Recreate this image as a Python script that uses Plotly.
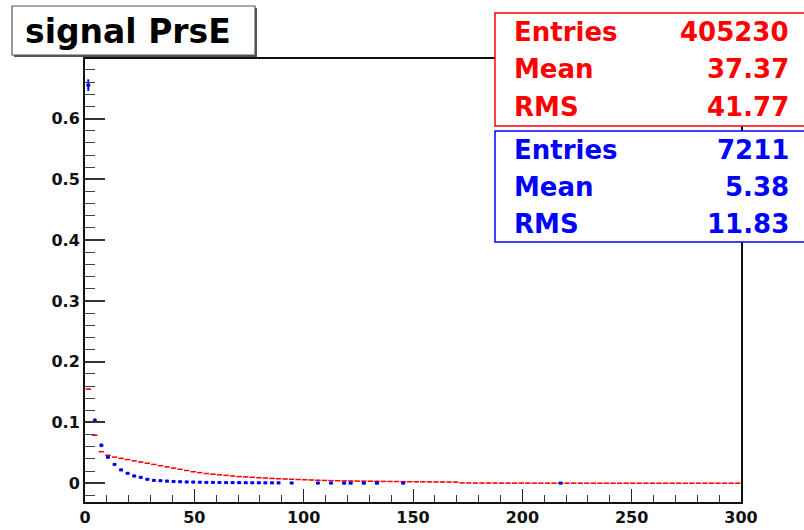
import plotly.graph_objects as go

# Histogram binning: 100 bins of width 3 over [0, 300]
n_bins = 100
bin_width = 3.0
x_lo = 0.0
centers = [x_lo + bin_width * (i + 0.5) for i in range(n_bins)]

# Normalised PrsE distribution, first sample (red)
red_vals = [
    0.155, 0.079, 0.052, 0.046, 0.043, 0.041, 0.039, 0.037, 0.035, 0.033,
    0.031, 0.029, 0.027, 0.025, 0.023, 0.021, 0.019, 0.0175, 0.016, 0.015,
    0.014, 0.013, 0.012, 0.011, 0.0105, 0.0098, 0.0092, 0.0086, 0.0080, 0.0075,
    0.0070, 0.0066, 0.0062, 0.0058, 0.0054, 0.0050, 0.0047, 0.0044, 0.0042, 0.0040,
    0.0038, 0.0036, 0.0035, 0.0033, 0.0032, 0.0031, 0.0030, 0.0029, 0.0027, 0.0026,
    0.0025, 0.0024, 0.0023, 0.0022, 0.0021, 0.0020, 0.0019, 0.0006, 0.0005, 0.0004,
    0.0004, 0.0004, 0.0004, 0.0003, 0.0003, 0.0003, 0.0003, 0.0003, 0.0002, 0.0002,
    0.0002, 0.0002, 0.0002, 0.0002, 0.0002, 0.0002, 0.0002, 0.0001, 0.0001, 0.0001,
    0.0001, 0.0001, 0.0001, 0.0001, 0.0001, 0.0001, 0.0001, 0.0001, 0.0001, 0.0001,
    0.0001, 0.0001, 0.0001, 0.0001, 0.0001, 0.0001, 0.0001, 0.0001, 0.0001, 0.0001,
]

# Normalised PrsE distribution, second sample (blue); None = empty bin
blue_vals = [
    0.655, 0.103, 0.0625, 0.043, 0.031, 0.022, 0.0165, 0.012, 0.0098, 0.0066,
    0.0048, 0.0042, 0.0036, 0.0030, 0.0025, 0.0022, 0.0020, 0.0018, 0.0015, 0.0014,
    0.0012, 0.0011, 0.0010, 0.0010, 0.0009, 0.0008, 0.0008, 0.0007, 0.0007, 0.0006,
    None, 0.0005, None, None, None, 0.0004, None, 0.0004, None, 0.0003,
    0.0003, None, 0.0003, None, 0.0003, None, None, None, 0.0003, None,
    None, None, None, None, None, None, None, None, None, None,
    None, None, None, None, None, None, None, None, None, None,
    None, None, 0.0003, None, None, None, None, None, None, None,
    None, None, None, None, None, None, None, None, None, None,
    None, None, None, None, None, None, None, None, None, None,
]
blue_errs = [0.0095, 0.0038, 0.003, 0.0025] + [0.0] * (n_bins - 4)

# Statistics boxes
red_stats = [("Entries", "405230"), ("Mean", "37.37"), ("RMS", "41.77")]
blue_stats = [("Entries", "7211"), ("Mean", "5.38"), ("RMS", "11.83")]

title_text = "signal PrsE"
x_range = [0, 300]
y_range = [-0.0308, 0.698]

RED = "#ff0000"
BLUE = "#0000ff"
FONT = "DejaVu Sans"

W, H = 804, 530
L, R, T, B = 85, 63, 59, 28
PW, PH = W - L - R, H - T - B


def px(xp):
    return (xp - L) / PW


def py(yp):
    return (H - B - yp) / PH


fig = go.Figure()

fig.add_trace(go.Scatter(
    x=centers, y=red_vals, mode="markers",
    marker=dict(color=RED, size=1, symbol="square"),
    error_x=dict(type="constant", value=1.25, color=RED, thickness=1.5, width=0),
    showlegend=False, hoverinfo="x+y",
))

fig.add_trace(go.Scatter(
    x=centers, y=blue_vals, mode="markers",
    marker=dict(color=BLUE, size=3, symbol="square"),
    error_x=dict(type="constant", value=0.9, color=BLUE, thickness=2.4, width=0),
    error_y=dict(type="data", array=blue_errs, color=BLUE, thickness=2, width=0),
    showlegend=False, hoverinfo="x+y",
))

tick_font = dict(family=FONT, size=16, color="#111111", weight="bold")

fig.update_xaxes(
    range=x_range, tickvals=[0, 50, 100, 150, 200, 250, 300],
    ticks="inside", ticklen=13, tickwidth=1.3, tickcolor="#222222",
    minor=dict(dtick=10, ticks="inside", ticklen=7, tickwidth=1, tickcolor="#333333"),
    showgrid=False, zeroline=False, automargin=False,
    showline=True, linecolor="#111111", linewidth=2, mirror=True,
    tickfont=tick_font,
)
fig.update_yaxes(
    range=y_range, tickvals=[0, 0.1, 0.2, 0.3, 0.4, 0.5, 0.6],
    ticktext=["0", "0.1", "0.2", "0.3", "0.4", "0.5", "0.6"],
    ticks="inside", ticklen=20, tickwidth=1.5, tickcolor="#333333",
    minor=dict(dtick=0.02, tick0=0, ticks="inside", ticklen=10, tickwidth=1.3, tickcolor="#444444"),
    showgrid=False, zeroline=False, automargin=False,
    showline=True, linecolor="#111111", linewidth=2, mirror=True,
    tickfont=tick_font,
)

shapes = []
annotations = []

# Title pave with shadow
shapes.append(dict(type="rect", xref="paper", yref="paper", layer="above",
                   x0=px(14), x1=px(257), y0=py(8), y1=py(57),
                   fillcolor="#555555", line=dict(width=0)))
shapes.append(dict(type="rect", xref="paper", yref="paper", layer="above",
                   x0=px(12), x1=px(255), y0=py(6), y1=py(55),
                   fillcolor="white", line=dict(color="#555555", width=1.2)))
annotations.append(dict(text=title_text, xref="paper", yref="paper",
                        x=px(23), y=py(31), xanchor="left", yanchor="middle",
                        showarrow=False,
                        font=dict(family=FONT, size=33, color="black", weight="bold")))

# Stats boxes
for (top, bottom, color, stats) in [(13, 126, RED, red_stats), (131, 242, BLUE, blue_stats)]:
    shapes.append(dict(type="rect", xref="paper", yref="paper", layer="above",
                       x0=px(495), x1=px(815), y0=py(top), y1=py(bottom),
                       fillcolor="white", line=dict(color=color, width=1.5)))
    row_h = (bottom - top) / 3.0
    for k, (name, val) in enumerate(stats):
        yc = top + row_h * (k + 0.5)
        annotations.append(dict(text=name, xref="paper", yref="paper",
                                x=px(512), y=py(yc), xanchor="left", yanchor="middle",
                                showarrow=False,
                                font=dict(family=FONT, size=26, color=color, weight="bold")))
        annotations.append(dict(text=val, xref="paper", yref="paper",
                                x=px(791), y=py(yc), xanchor="right", yanchor="middle",
                                showarrow=False,
                                font=dict(family=FONT, size=26, color=color, weight="bold")))

fig.update_layout(
    width=W, height=H,
    margin=dict(l=L, r=R, t=T, b=B, pad=0),
    paper_bgcolor="white", plot_bgcolor="white",
    shapes=shapes, annotations=annotations,
    showlegend=False,
)

fig.write_html("out.html")
